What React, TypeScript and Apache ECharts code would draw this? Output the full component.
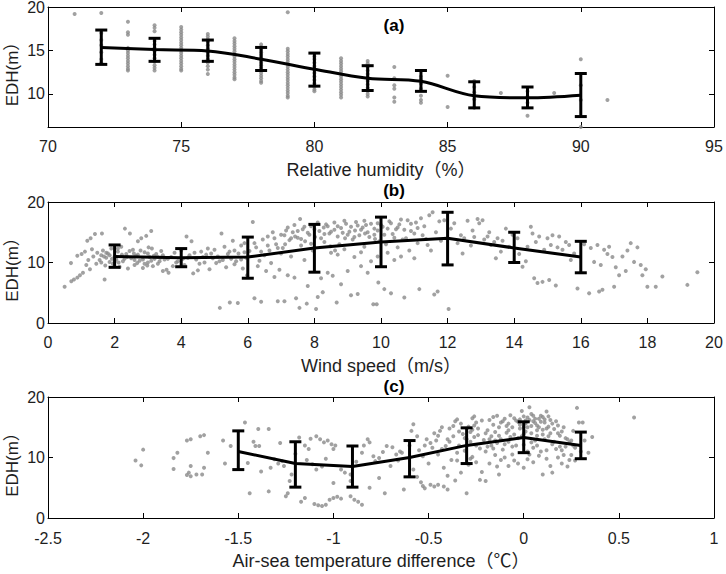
import React, { useEffect, useRef } from "react";
import * as echarts from "echarts";

// ---------- Panel (a): relative humidity ----------
const rhX = [72, 74, 76, 78, 80, 82, 84, 86, 88, 90];
const rhMean = [15.35, 15.1, 14.95, 14.0, 12.85, 11.8, 11.45, 9.8, 9.55, 9.85];
const rhLow = [13.4, 13.75, 13.75, 12.7, 10.9, 10.4, 10.3, 8.4, 8.4, 7.4];
const rhHigh = [17.35, 16.4, 16.2, 15.35, 14.7, 13.25, 12.7, 11.4, 10.8, 12.35];
const rhColX = [71, 72, 73, 74, 75, 76, 77, 78, 79, 80, 81, 82, 83, 84, 85, 86, 87, 88, 89, 90, 91];
const rhColY = [
  [19.2],
  [19.3, 17.0, 16.2, 15.6, 14.8, 14.0, 13.6],
  [18.3, 17.1, 16.8, 15.3, 15.0, 14.7, 14.4, 14.1, 13.8, 13.5, 13.2, 12.9, 12.7],
  [17.9, 17.6, 17.2, 16.1, 15.7, 15.3, 14.9, 14.5, 14.1, 13.7, 13.3, 13.0, 12.7],
  [17.7, 17.4, 17.1, 16.8, 16.5, 16.2, 15.9, 15.6, 15.3, 15.0, 14.7, 14.4, 14.1, 13.8, 13.5, 13.2, 12.9, 12.7],
  [16.9, 16.6, 16.3, 16.0, 15.6, 15.2, 14.8, 14.4, 14.0, 13.6, 13.2, 12.8, 12.3],
  [16.4, 16.1, 15.8, 15.5, 15.2, 14.9, 14.6, 14.3, 14.0, 13.7, 13.4, 13.1, 12.8, 12.5, 12.2, 11.9, 11.7],
  [15.7, 15.4, 15.1, 14.8, 14.5, 14.2, 13.9, 13.6, 13.3, 13.0, 12.7, 12.4, 12.1, 11.8, 11.5, 11.3],
  [19.4, 15.2, 14.9, 14.6, 14.3, 14.0, 13.7, 13.4, 13.1, 12.8, 12.5, 12.2, 11.9, 11.6, 11.3, 11.0, 10.7, 10.4, 10.1, 9.8, 9.6],
  [14.3, 14.0, 13.6, 13.2, 12.8, 12.4, 12.0, 11.6, 11.2, 10.8, 10.5, 10.3],
  [14.1, 13.8, 13.5, 13.2, 12.9, 12.6, 12.3, 12.0, 11.7, 11.4, 11.1, 10.8, 10.5, 10.2, 9.9, 9.6],
  [13.8, 13.5, 13.1, 12.7, 12.3, 11.9, 11.5, 11.1, 10.7, 10.3, 10.0, 9.7],
  [13.1, 11.8, 11.0, 10.6, 9.6, 9.1],
  [12.0, 11.7, 11.2, 10.6, 9.8, 9.3, 9.0],
  [12.1, 8.5],
  [11.5, 10.8, 10.2, 9.4, 8.4],
  [10.1],
  [10.3, 9.7, 9.0, 7.5],
  [10.1],
  [14.0, 11.0, 9.3, 6.2],
  [9.3],
];
const rhYTicks = [10, 15, 20];

// ---------- Panel (b): wind speed ----------
const wsX = [2, 4, 6, 8, 10, 12, 14, 16];
const wsMean = [11.0, 10.8, 10.9, 12.4, 13.4, 14.0, 12.4, 10.9];
const wsLow = [9.2, 9.3, 7.4, 8.4, 9.3, 9.6, 10.0, 8.3];
const wsHigh = [12.9, 12.3, 14.2, 16.3, 17.5, 18.3, 15.0, 13.5];
const wsScatter = [
  [0.5, 6.0], [0.7, 6.9], [0.78, 7.2], [0.88, 7.5], [0.96, 7.9], [1.05, 8.3], [0.69, 9.9], [0.88, 11.1], [1.01, 11.4], [1.11, 11.8],
  [1.18, 13.6], [1.28, 14.0], [1.41, 14.7], [1.21, 10.4], [1.36, 11.0], [1.26, 8.9], [1.15, 9.6], [1.32, 12.2], [1.45, 9.8], [1.48, 11.6],
  [1.55, 10.4], [1.6, 11.2], [1.62, 14.8], [1.65, 12.0], [1.7, 7.2], [1.72, 9.5], [1.75, 10.8], [1.8, 11.5], [1.85, 10.1], [1.9, 12.3],
  [1.95, 9.8], [2.0, 11.0], [2.05, 10.5], [2.1, 11.8], [2.15, 9.3], [2.2, 12.6], [2.25, 10.2], [2.31, 15.6], [2.35, 11.4], [2.4, 9.0],
  [2.46, 14.8], [2.5, 10.7], [2.55, 12.1], [2.6, 9.6], [2.65, 11.1], [2.7, 13.5], [2.75, 10.3], [2.8, 14.0], [2.85, 9.1], [2.9, 11.7],
  [2.95, 14.4], [3.0, 10.0], [3.05, 10.9], [3.1, 15.2], [3.12, 12.3], [3.15, 9.4], [3.2, 10.6], [3.25, 11.4], [3.3, 9.8], [3.35, 10.2],
  [3.4, 11.9], [3.45, 8.6], [3.5, 10.5], [1.68, 11.0], [1.92, 10.6], [2.12, 10.0], [2.38, 10.9], [2.58, 11.5], [2.78, 12.0], [2.98, 9.5],
  [3.18, 11.1], [3.38, 10.8], [2.22, 11.3], [2.68, 9.9], [3.02, 12.5],
  [1.6, 10.0], [1.75, 11.6], [1.85, 11.2], [2.0, 10.1], [2.1, 12.3], [2.3, 10.6], [2.45, 11.9], [2.6, 10.4], [2.7, 11.3], [2.85, 10.5],
  [2.9, 9.8], [3.0, 11.5], [3.1, 10.3], [3.3, 10.9], [3.45, 11.2], [3.6, 10.6], [3.85, 10.0], [4.2, 10.8], [4.4, 11.6], [4.65, 10.9],
  [4.75, 11.3], [5.15, 10.2], [5.45, 11.8], [5.6, 9.7],
  [3.56, 8.8], [3.62, 8.3], [3.7, 10.9], [3.8, 11.6], [3.9, 10.2], [4.0, 12.0], [4.1, 9.6], [4.16, 14.3], [4.25, 11.2], [4.31, 13.5],
  [4.36, 8.2], [4.45, 10.5], [4.5, 8.7], [4.6, 11.8], [4.7, 10.0], [4.8, 12.3], [4.9, 11.5], [4.95, 10.7], [5.0, 12.1], [5.05, 9.9],
  [5.1, 11.0], [5.16, 2.5], [5.21, 14.8], [5.25, 10.4], [5.3, 12.6], [5.35, 9.2], [5.4, 11.4], [5.46, 3.4], [5.5, 10.6], [4.05, 10.6],
  [4.55, 9.8], [3.75, 9.4], [4.85, 8.9],
  [5.55, 13.6], [5.6, 12.0], [5.65, 10.2], [5.7, 3.3], [5.72, 11.5], [5.8, 12.8], [5.85, 9.0], [5.9, 13.2], [5.95, 10.8], [6.05, 11.9],
  [6.15, 16.7], [6.2, 4.1], [6.25, 12.5], [6.3, 9.4], [6.4, 3.5], [6.45, 13.8], [6.5, 11.2], [6.55, 8.6], [6.6, 14.3], [6.65, 12.0],
  [6.7, 9.9], [6.75, 15.0], [6.8, 7.6], [6.85, 13.0], [6.9, 3.6], [6.95, 8.8], [7.0, 14.6], [5.98, 7.9], [6.35, 10.3],
  [6.6, 12.8], [6.8, 14.0], [6.9, 12.4], [7.0, 11.5], [6.4, 11.8], [6.2, 13.2], [5.9, 11.7], [5.8, 10.5],
  [7.05, 12.4], [7.1, 3.6], [7.15, 15.3], [7.2, 7.9], [7.25, 13.7], [7.3, 11.0], [7.35, 15.0], [7.4, 7.5], [7.45, 4.1], [7.5, 14.1],
  [7.55, 2.5], [7.57, 17.2], [7.6, 12.8], [7.65, 15.5], [7.7, 10.4], [7.77, 3.2], [7.8, 6.1], [7.85, 14.6], [7.9, 16.0], [7.95, 12.0],
  [8.05, 2.3], [8.1, 4.3], [8.15, 15.2], [8.2, 7.4], [8.25, 5.1], [8.3, 13.4], [8.35, 16.3], [8.4, 8.3], [8.45, 14.8], [8.5, 11.6],
  [8.55, 7.8], [7.12, 13.0], [7.42, 14.3], [7.72, 13.5], [8.02, 14.2], [8.28, 15.8], [8.48, 12.7],
  [7.1, 14.5], [7.2, 15.8], [7.3, 14.0], [7.4, 16.2], [7.5, 15.2], [7.6, 13.9], [7.7, 15.9], [7.8, 14.9], [7.9, 13.1], [8.0, 15.5],
  [8.1, 16.6], [8.2, 14.0], [8.3, 14.7], [8.4, 16.0], [8.5, 15.1],
  [8.6, 15.4], [8.67, 3.4], [8.7, 16.0], [8.75, 13.0], [8.8, 6.4], [8.85, 14.9], [8.9, 12.2], [8.95, 16.4], [9.0, 8.6], [9.05, 15.1],
  [9.1, 4.6], [9.15, 13.8], [9.2, 10.9], [9.25, 16.7], [9.3, 4.8], [9.35, 14.5], [9.4, 9.4], [9.45, 15.8], [9.5, 12.6], [9.55, 16.2],
  [9.6, 8.3], [9.65, 14.2], [9.7, 10.2], [9.77, 3.1], [9.8, 15.6], [9.87, 3.1], [9.9, 16.5], [9.92, 6.7], [9.95, 13.5], [8.62, 12.0],
  [8.92, 14.0], [9.22, 15.3], [9.52, 14.8], [9.82, 13.9],
  [8.6, 16.6], [8.7, 14.3], [8.8, 15.7], [8.9, 16.9], [9.0, 14.6], [9.1, 15.9], [9.2, 14.2], [9.3, 16.1], [9.4, 15.4], [9.5, 16.9],
  [9.6, 15.0], [9.7, 16.4], [9.8, 14.6], [9.9, 15.3], [8.7, 11.3], [9.4, 11.7], [9.9, 11.0],
  [10.05, 15.9], [10.1, 5.6], [10.15, 13.0], [10.2, 11.6], [10.25, 16.8], [10.3, 4.9], [10.35, 14.7], [10.4, 10.4], [10.45, 15.5], [10.5, 12.5],
  [10.55, 16.3], [10.6, 11.0], [10.7, 4.2], [10.75, 14.0], [10.8, 17.0], [10.85, 12.0], [10.9, 15.2], [11.0, 10.7], [11.05, 16.6], [11.1, 13.2],
  [11.15, 5.6], [11.2, 17.3], [11.25, 14.5], [11.3, 16.0], [11.4, 12.9], [11.45, 17.8], [11.5, 12.0], [11.55, 18.3], [11.6, 4.7], [11.65, 15.0],
  [11.7, 5.2], [11.75, 16.8], [11.8, 13.6], [11.9, 17.0], [12.03, 2.3], [10.65, 13.8], [11.35, 13.9],
  [10.0, 16.2], [10.1, 14.6], [10.2, 15.6], [10.3, 16.5], [10.4, 14.1], [10.5, 15.8], [10.6, 17.1], [10.7, 15.4], [10.9, 16.4], [11.0, 14.8],
  [11.1, 15.7],
  [12.1, 15.6], [12.2, 16.5], [12.3, 13.2], [12.4, 14.5], [12.5, 14.0], [12.6, 16.9], [12.7, 12.8], [12.8, 14.2], [12.9, 17.2], [12.95, 16.5],
  [13.05, 17.0], [13.1, 13.8], [13.2, 14.3], [13.3, 12.9], [13.4, 13.4], [13.45, 10.7], [13.5, 14.0], [13.6, 11.8], [13.65, 13.6], [13.75, 15.6],
  [13.85, 12.6], [13.95, 14.6], [12.45, 11.5], [12.75, 15.3], [13.25, 15.0],
  [14.1, 14.0], [14.15, 11.4], [14.25, 9.3], [14.35, 10.2], [14.5, 15.9], [14.55, 14.8], [14.6, 7.4], [14.65, 13.4], [14.7, 6.6], [14.75, 14.3],
  [14.85, 6.8], [14.9, 12.1], [15.0, 14.0], [15.05, 7.1], [15.1, 12.9], [15.15, 14.5], [15.25, 6.2], [15.3, 12.5], [15.35, 14.3], [15.45, 12.1],
  [15.65, 12.9], [15.7, 10.4], [15.8, 11.5], [15.9, 5.7], [14.4, 12.6], [15.55, 13.4],
  [16.1, 13.0], [16.25, 4.9], [16.3, 12.4], [16.4, 10.1], [16.5, 12.9], [16.55, 5.2], [16.6, 9.6], [16.65, 5.5], [16.7, 12.1], [16.85, 12.6],
  [16.95, 10.9], [17.0, 6.0], [17.05, 9.2], [17.15, 7.9], [17.25, 11.0], [17.35, 8.6], [17.4, 12.0], [17.5, 13.2], [17.6, 10.1], [17.7, 12.5],
  [17.8, 9.6], [17.85, 7.9], [18.0, 6.0], [18.25, 6.0], [18.45, 7.7], [19.2, 6.3], [19.5, 8.4], [17.95, 8.9], [16.8, 11.4],
];
const wsYTicks = [0, 10, 20];

// ---------- Panel (c): air-sea temperature difference ----------
const tdX = [-1.5, -1.2, -0.9, -0.6, -0.3, 0, 0.3];
const tdMean = [11.0, 9.0, 8.5, 10.0, 12.0, 13.3, 12.0];
const tdLow = [8.0, 5.1, 5.1, 6.8, 9.0, 10.8, 9.8];
const tdHigh = [14.4, 12.6, 11.9, 12.8, 14.9, 15.9, 14.2];
const tdScatter = [
  [-2.04, 9.5], [-2.01, 8.7], [-2.0, 11.3], [-1.84, 8.1], [-1.84, 9.9], [-1.82, 10.8], [-1.77, 12.8], [-1.75, 13.0], [-1.77, 7.1], [-1.76, 7.5],
  [-1.75, 6.9], [-1.75, 8.6], [-1.72, 7.2], [-1.69, 7.2], [-1.7, 13.5], [-1.68, 13.7], [-1.68, 8.3], [-1.66, 10.8], [-1.58, 12.8], [-1.54, 11.9],
  [-1.57, 9.0],
  [-1.465, 15.8], [-1.395, 14.7], [-1.34, 14.7], [-1.44, 4.1], [-1.41, 11.9], [-1.39, 11.9], [-1.38, 7.7], [-1.34, 4.4], [-1.33, 8.3], [-1.31, 9.7],
  [-1.29, 9.0], [-1.27, 9.4], [-1.26, 8.6], [-1.28, 12.4], [-1.25, 3.6], [-1.24, 4.1], [-1.23, 6.1], [-1.22, 7.2], [-1.17, 2.7], [-1.15, 3.3],
  [-1.15, 12.0], [-1.13, 11.4], [-1.12, 13.1], [-1.09, 13.5], [-1.07, 13.0], [-1.05, 12.5], [-1.03, 12.8], [-1.01, 12.2], [-1.0, 11.4], [-0.99, 12.0],
  [-1.14, 9.6], [-1.11, 8.9], [-1.09, 8.0], [-1.06, 8.5], [-1.04, 9.8], [-1.1, 2.3], [-1.08, 2.1], [-1.06, 2.0], [-1.04, 2.2], [-1.02, 3.0],
  [-1.0, 3.3], [-0.98, 3.5], [-0.96, 3.2], [-1.0, 5.8], [-0.96, 8.0], [-0.94, 7.5], [-1.45, 9.1], [-1.42, 12.6], [-1.2, 10.6], [-1.18, 13.3],
  [-0.91, 3.6], [-0.89, 3.0], [-0.87, 2.7], [-0.85, 2.2], [-0.91, 6.1], [-0.91, 7.2], [-0.85, 10.8], [-0.84, 12.0], [-0.82, 13.0], [-0.81, 12.5],
  [-0.79, 10.2], [-0.78, 9.4], [-0.76, 9.9], [-0.81, 5.0], [-0.76, 6.6], [-0.72, 11.9], [-0.73, 4.1], [-0.69, 11.7], [-0.67, 10.5], [-0.65, 11.0],
  [-0.64, 10.8], [-0.63, 4.7], [-0.58, 15.5], [-0.59, 14.4], [-0.56, 13.5], [-0.58, 8.0], [-0.56, 6.8], [-0.54, 5.9], [-0.53, 5.3], [-0.52, 4.9],
  [-0.88, 9.3], [-0.7, 8.6], [-0.6, 12.0], [-0.66, 9.5], [-0.74, 10.9],
  [-0.55, 11.2], [-0.53, 10.2], [-0.51, 13.0], [-0.49, 12.4], [-0.47, 14.0], [-0.45, 13.6], [-0.44, 14.4], [-0.49, 5.5], [-0.47, 5.2], [-0.45, 5.5],
  [-0.42, 5.2], [-0.4, 4.7], [-0.41, 11.9], [-0.39, 12.6], [-0.37, 15.2], [-0.36, 16.0], [-0.35, 16.3], [-0.34, 14.3], [-0.32, 13.9], [-0.3, 4.1],
  [-0.28, 12.6], [-0.27, 16.5], [-0.26, 16.8], [-0.25, 15.8], [-0.24, 14.8], [-0.23, 11.5], [-0.22, 7.6], [-0.23, 6.3], [-0.5, 9.0], [-0.45, 10.5],
  [-0.42, 8.3], [-0.38, 9.6], [-0.35, 10.8], [-0.33, 7.5], [-0.31, 11.1], [-0.29, 8.8], [-0.27, 10.1], [-0.25, 9.2], [-0.21, 12.9], [-0.43, 15.0],
  [-0.39, 14.8], [-0.33, 15.6], [-0.29, 15.1], [-0.26, 13.4], [-0.4, 7.0], [-0.36, 6.2], [-0.48, 11.6],
  [-0.3, 13.0], [-0.28, 14.2], [-0.26, 15.3], [-0.24, 13.7], [-0.22, 16.1], [-0.2, 14.0], [-0.2, 11.0], [-0.27, 14.6], [-0.31, 13.2], [-0.34, 12.0],
  [-0.37, 13.5], [-0.4, 13.0], [-0.43, 11.4], [-0.46, 12.8], [-0.52, 12.0], [-0.35, 9.5], [-0.28, 9.8], [-0.25, 12.0],
  [-0.2, 6.1], [-0.19, 14.5], [-0.18, 16.2], [-0.17, 12.0], [-0.16, 15.4], [-0.15, 10.4], [-0.14, 16.9], [-0.13, 7.2], [-0.13, 13.6], [-0.12, 15.8],
  [-0.11, 11.3], [-0.1, 16.4], [-0.09, 14.1], [-0.08, 12.6], [-0.07, 17.0], [-0.06, 15.0], [-0.05, 9.5], [-0.04, 16.1], [-0.03, 13.2], [-0.02, 14.8],
  [-0.01, 17.7], [0.0, 12.1], [0.01, 15.6], [0.02, 16.6], [0.03, 18.3], [0.03, 10.5], [0.04, 14.0], [0.05, 16.0], [0.06, 12.8], [0.07, 15.3],
  [0.08, 16.4], [0.09, 11.0], [0.1, 14.6], [0.11, 15.8], [0.12, 17.6], [0.12, 9.8], [0.13, 13.5], [0.14, 16.2], [0.15, 12.2], [-0.18, 9.0],
  [-0.16, 11.5], [-0.14, 8.5], [-0.1, 10.0], [-0.08, 8.6], [-0.06, 11.8], [-0.03, 9.0], [0.0, 8.3], [0.02, 11.0], [0.05, 9.2], [0.08, 10.3],
  [0.1, 7.2], [0.14, 8.6], [-0.12, 13.0], [-0.05, 13.8], [0.0, 15.0], [0.04, 15.2], [0.06, 15.7], [0.09, 15.9], [-0.15, 14.2], [-0.09, 15.2],
  [0.01, 14.3], [0.07, 13.6], [-0.17, 13.5], [0.11, 13.0], [0.13, 15.1], [-0.02, 16.3], [0.0, 16.8], [0.05, 16.9], [0.1, 16.7],
  [-0.18, 13.0], [-0.16, 16.7], [-0.15, 12.8], [-0.13, 15.0], [-0.11, 16.0], [-0.1, 12.2], [-0.08, 15.6], [-0.07, 13.4], [-0.05, 16.5], [-0.04, 12.0],
  [-0.02, 15.4], [-0.01, 13.5], [0.02, 15.0], [0.03, 16.2], [0.04, 12.5], [0.06, 16.4], [0.07, 14.5], [0.08, 15.0], [0.09, 16.9], [0.1, 13.8],
  [0.11, 16.3], [0.12, 14.8], [0.13, 16.8], [0.14, 14.0], [0.15, 15.6], [0.05, 11.6], [0.02, 9.7], [-0.06, 10.5], [-0.12, 9.6], [-0.19, 11.8],
  [-0.14, 12.4], [0.0, 13.9], [0.07, 12.0], [0.12, 11.2], [-0.08, 14.5], [-0.03, 15.9], [0.01, 16.1], [0.04, 17.2],
  [0.16, 14.7], [0.17, 11.4], [0.18, 10.0], [0.19, 13.6], [0.2, 9.0], [0.21, 15.0], [0.22, 11.8], [0.23, 8.5], [0.24, 12.5], [0.25, 10.4],
  [0.26, 14.4], [0.27, 9.5], [0.28, 18.2], [0.29, 15.8], [0.31, 15.8], [0.3, 11.0], [0.32, 12.8], [0.34, 10.8], [0.36, 13.4], [0.18, 14.0],
  [0.22, 13.2], [0.26, 12.0], [0.2, 11.2], [0.58, 16.6], [0.17, 16.0], [0.15, 7.5],
  [0.16, 12.6], [0.18, 15.3], [0.19, 11.8], [0.2, 14.3], [0.21, 10.4], [0.23, 13.0], [0.24, 9.6], [0.25, 12.8], [0.27, 11.6],
];
const tdYTicks = [0, 10, 20];

const FONT = "'Liberation Sans', Arial, 'Noto Sans CJK SC', sans-serif";
const TXT = "#1e1e1e";

function errorBarRender(params: any, api: any) {
  const x = api.value(0);
  const lo = api.value(1);
  const hi = api.value(2);
  const pTop = api.coord([x, hi]);
  const pBot = api.coord([x, lo]);
  const hw = 6;
  const st = { stroke: "#000", lineWidth: 3 };
  return {
    type: "group",
    children: [
      { type: "line", shape: { x1: pTop[0], y1: pTop[1], x2: pBot[0], y2: pBot[1] }, style: st },
      { type: "line", shape: { x1: pTop[0] - hw, y1: pTop[1], x2: pTop[0] + hw, y2: pTop[1] }, style: st },
      { type: "line", shape: { x1: pBot[0] - hw, y1: pBot[1], x2: pBot[0] + hw, y2: pBot[1] }, style: st },
    ],
  };
}

export default function App() {
  const ref = useRef<HTMLDivElement>(null);
  useEffect(() => {
    document.body.style.margin = "0";
    if (!ref.current) return;
    const chart = echarts.init(ref.current, null, { renderer: "svg" });

    const panels = [
      {
        top: 7, height: 120, xMin: 70, xMax: 95, xInt: 5, yMin: 6.2, yMax: 20, yTicks: rhYTicks,
        xName: "Relative humidity（%）", title: "(a)", titleY: 25, labelMargin: 11,
        scatter: rhColX.flatMap((x, i) => rhColY[i].map((y) => [x, y])),
        xs: rhX, mean: rhMean, low: rhLow, high: rhHigh, smooth: 0.35,
      },
      {
        top: 202, height: 121, xMin: 0, xMax: 20, xInt: 2, yMin: 0, yMax: 20, yTicks: wsYTicks,
        xName: "Wind speed（m/s）", title: "(b)", titleY: 190, labelMargin: 11,
        scatter: wsScatter, xs: wsX, mean: wsMean, low: wsLow, high: wsHigh, smooth: false,
      },
      {
        top: 397, height: 121, xMin: -2.5, xMax: 1, xInt: 0.5, yMin: 0, yMax: 20, yTicks: tdYTicks,
        xName: "Air-sea temperature difference（℃）", title: "(c)", titleY: 386, labelMargin: 12,
        scatter: tdScatter, xs: tdX, mean: tdMean, low: tdLow, high: tdHigh, smooth: false,
      },
    ];

    const grid: any[] = [];
    const xAxis: any[] = [];
    const yAxis: any[] = [];
    const series: any[] = [];
    const graphic: any[] = [];

    const axisLine = { show: true, onZero: false, lineStyle: { color: "#000", width: 1 } };
    const tickBase = { show: true, inside: true, length: 5, lineStyle: { color: "#000", width: 1 } };

    panels.forEach((p, i) => {
      grid.push({ left: 48, width: 666, top: p.top, height: p.height, outerBoundsMode: "none" });
      xAxis.push({
        type: "value", gridIndex: i, position: "bottom", min: p.xMin, max: p.xMax, interval: p.xInt,
        axisLine, axisTick: tickBase, splitLine: { show: false },
        axisLabel: { color: TXT, fontSize: 16, fontFamily: FONT, margin: p.labelMargin },
        name: p.xName, nameLocation: "middle", nameGap: 34,
        nameTextStyle: { color: TXT, fontSize: 18, fontFamily: FONT },
      });
      xAxis.push({
        type: "value", gridIndex: i, position: "top", min: p.xMin, max: p.xMax, interval: p.xInt,
        axisLine, axisTick: tickBase, splitLine: { show: false }, axisLabel: { show: false },
      });
      yAxis.push({
        type: "value", gridIndex: i, position: "left", min: p.yMin, max: p.yMax,
        axisLine, axisTick: { ...tickBase, customValues: p.yTicks }, splitLine: { show: false },
        axisLabel: { color: TXT, fontSize: 16, fontFamily: FONT, margin: 3, customValues: p.yTicks },
      });
      yAxis.push({
        type: "value", gridIndex: i, position: "right", min: p.yMin, max: p.yMax,
        axisLine, axisTick: { ...tickBase, customValues: p.yTicks }, splitLine: { show: false },
        axisLabel: { show: false, customValues: p.yTicks },
      });

      series.push({
        type: "scatter", xAxisIndex: 2 * i, yAxisIndex: 2 * i, data: p.scatter,
        symbol: "circle", symbolSize: 4, itemStyle: { color: "#8a8a8a" }, z: 2, silent: true,
      });
      series.push({
        type: "line", xAxisIndex: 2 * i, yAxisIndex: 2 * i,
        data: p.xs.map((x, k) => [x, p.mean[k]]),
        symbol: "none", showSymbol: false, smooth: p.smooth,
        lineStyle: { color: "#000", width: 3 }, z: 3, silent: true,
      });
      series.push({
        type: "custom", xAxisIndex: 2 * i, yAxisIndex: 2 * i,
        data: p.xs.map((x, k) => [x, p.low[k], p.high[k]]),
        encode: { x: 0, y: [1, 2] }, renderItem: errorBarRender, z: 4, silent: true,
      });

      graphic.push({
        type: "text", x: 394, y: p.titleY, z: 10,
        style: {
          text: p.title, align: "center", verticalAlign: "middle",
          fontSize: 17, fontWeight: "bold", fontFamily: FONT, fill: "#000",
        },
      });
      graphic.push({
        type: "text", x: 12, y: p.top + p.height / 2 + 3, rotation: Math.PI / 2, z: 10,
        style: {
          text: "EDH(m）", align: "center", verticalAlign: "middle",
          fontSize: 17, fontFamily: FONT, fill: TXT,
        },
      });
    });

    chart.setOption({ animation: false, grid, xAxis, yAxis, series, graphic });
    return () => chart.dispose();
  }, []);

  return <div ref={ref} style={{ width: 726, height: 574 }} />;
}
